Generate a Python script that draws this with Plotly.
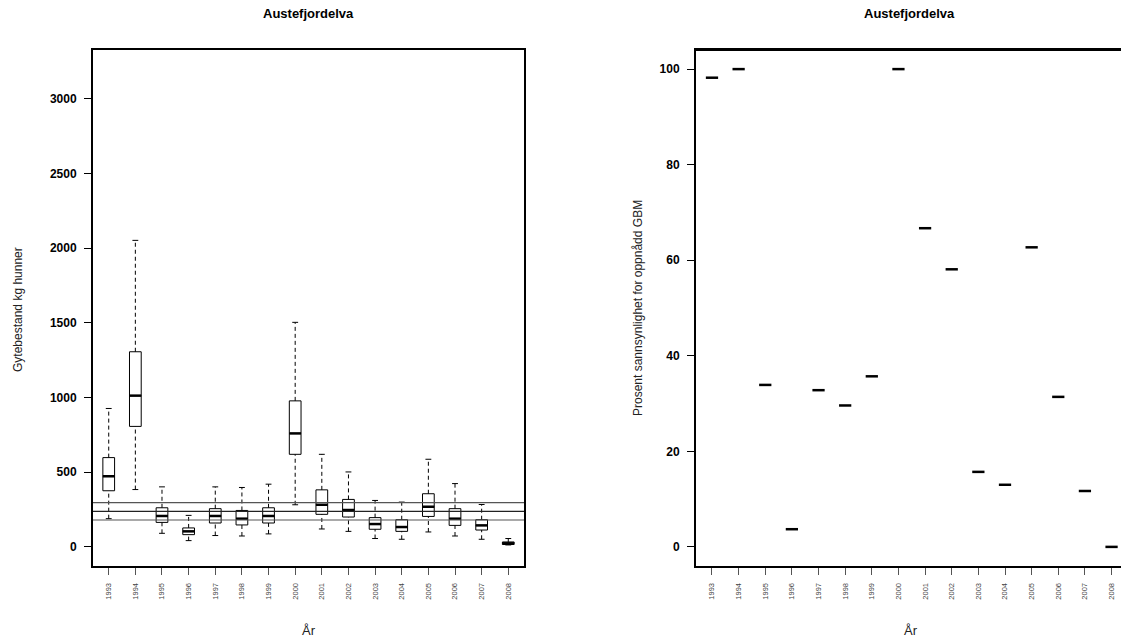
import plotly.graph_objects as go

# ---------------- data ----------------
years = [str(y) for y in range(1993, 2009)]

# left panel: spawning stock (kg females) box statistics
whisker_low = [189, 384, 91, 42, 76, 73, 87, 282, 120, 104, 56, 51, 100, 73, 51, 13]
q1 = [376, 807, 164, 82, 160, 147, 160, 620, 218, 200, 118, 104, 204, 144, 113, 16]
median = [473, 1013, 207, 104, 207, 189, 207, 760, 282, 247, 153, 133, 269, 189, 144, 24]
q3 = [598, 1307, 262, 127, 256, 244, 262, 978, 382, 318, 196, 182, 356, 256, 182, 33]
whisker_high = [927, 2053, 402, 211, 402, 398, 420, 1504, 620, 502, 311, 300, 587, 424, 284, 56]

# reference levels (kg females)
ref_levels = [180, 238, 296]

# right panel: percent probability of reaching spawning target
prob_pct = [98.2, 100, 33.9, 3.7, 32.8, 29.6, 35.7, 100, 66.7, 58.1, 15.7, 13.0, 62.7, 31.4, 11.7, 0]

title_text = "Austefjordelva"
ylab_left = "Gytebestand kg hunner"
ylab_right = "Prosent sannsynlighet for oppnådd GBM"
xlab = "År"

# ---------------- figure ----------------
W, H = 1121, 639
pos = list(range(len(years)))
BW = 0.44     # box width (data units)
CAP = 0.22    # whisker cap width

fig = go.Figure()

# boxes (body only; whiskers drawn dashed separately)
fig.add_trace(go.Box(
    x=pos, q1=q1, median=median, q3=q3, lowerfence=q1, upperfence=q3,
    width=BW, fillcolor="white", line=dict(color="black", width=1),
    whiskerwidth=0, boxpoints=False, hoverinfo="skip",
    xaxis="x", yaxis="y", showlegend=False))

def seg_xy(xs, ys_a, ys_b):
    X, Y = [], []
    for x, a, b in zip(xs, ys_a, ys_b):
        X += [x, x, None]
        Y += [a, b, None]
    return X, Y

def hseg_xy(xs, ys, half):
    X, Y = [], []
    for x, y in zip(xs, ys):
        X += [x - half, x + half, None]
        Y += [y, y, None]
    return X, Y

# dashed whiskers
wx, wy = seg_xy(pos, q3, whisker_high)
wx2, wy2 = seg_xy(pos, whisker_low, q1)
fig.add_trace(go.Scatter(x=wx + wx2, y=wy + wy2, mode="lines",
                         line=dict(color="black", width=1, dash="4px,3px"),
                         xaxis="x", yaxis="y", showlegend=False, hoverinfo="skip"))
# caps
cx, cy = hseg_xy(pos + pos, whisker_high + whisker_low, CAP / 2)
fig.add_trace(go.Scatter(x=cx, y=cy, mode="lines", line=dict(color="black", width=1),
                         xaxis="x", yaxis="y", showlegend=False, hoverinfo="skip"))
# medians (thick)
mx, my = hseg_xy(pos, median, BW / 2)
fig.add_trace(go.Scatter(x=mx, y=my, mode="lines", line=dict(color="black", width=2.5),
                         xaxis="x", yaxis="y", showlegend=False, hoverinfo="skip"))

# right panel medians
px_, py_ = hseg_xy(pos, prob_pct, 0.46 / 2)
fig.add_trace(go.Scatter(x=px_, y=py_, mode="lines", line=dict(color="black", width=2.5),
                         xaxis="x2", yaxis="y2", showlegend=False, hoverinfo="skip"))

# reference lines
ref_colors = ["#555555", "#222222", "#555555"]
for lvl, c in zip(ref_levels, ref_colors[::-1]):
    fig.add_shape(type="line", xref="x domain", yref="y", x0=0, x1=1, y0=lvl, y1=lvl,
                  line=dict(color=c, width=1.2))

# top frame line of right panel (its right edge lies outside the page)
fig.add_shape(type="line", xref="x2 domain", yref="y2 domain", x0=0, x1=1, y0=1, y1=1,
              line=dict(color="black", width=2))

FONT = "Liberation Sans, Arial, sans-serif"

def px2x(p):
    return p / W

def px2y(p):
    return (H - p) / H

xcommon = dict(tickmode="array", tickvals=pos, ticktext=years, tickangle=-90,
               ticks="outside", ticklen=7, tickcolor="#555555", tickwidth=1,
               tickfont=dict(family=FONT, size=7.5, color="#444444"),
               ticklabelstandoff=5, showgrid=False, zeroline=False,
               showline=True, linecolor="black", linewidth=2, mirror=True)
ycommon = dict(ticks="outside", ticklen=7, tickcolor="black", tickwidth=1,
               tickfont=dict(family=FONT, size=12, color="black", weight="bold"),
               ticklabelstandoff=5, showgrid=False, zeroline=False,
               showline=True, linecolor="black", linewidth=2)

unit = 431 / 16.18
fig.update_layout(
    width=W, height=H, margin=dict(l=0, r=0, t=0, b=0),
    paper_bgcolor="white", plot_bgcolor="white", showlegend=False,
    xaxis=dict(domain=[px2x(93), px2x(524)], range=[-0.59, 15.59], anchor="y", **xcommon),
    yaxis=dict(domain=[px2y(566), px2y(50)], range=[-128, 3328],
               tickvals=[0, 500, 1000, 1500, 2000, 2500, 3000], anchor="x",
               mirror=True, **ycommon),
    xaxis2=dict(domain=[px2x(696), 1.0], range=[-0.6, -0.6 + 425 / unit], anchor="y2", **xcommon),
    yaxis2=dict(domain=[px2y(566), px2y(50)], range=[-4, 104],
                tickvals=[0, 20, 40, 60, 80, 100], anchor="x2", **ycommon),
)

ann = [
    dict(text="<b>" + title_text + "</b>", x=px2x(308.5), y=px2y(14), size=13, angle=0, color="black"),
    dict(text="<b>" + title_text + "</b>", x=px2x(909), y=px2y(14), size=13, angle=0, color="black"),
    dict(text=ylab_left, x=px2x(18), y=px2y(310), size=12, angle=-90, color="#222222"),
    dict(text=ylab_right, x=px2x(638), y=px2y(308), size=12, angle=-90, color="#222222"),
    dict(text=xlab, x=px2x(308.5), y=px2y(630), size=13, angle=0, color="#222222"),
    dict(text=xlab, x=px2x(911), y=px2y(630), size=13, angle=0, color="#222222"),
]
for a in ann:
    fig.add_annotation(text=a["text"], x=a["x"], y=a["y"], xref="paper", yref="paper",
                       xanchor="center", yanchor="middle", showarrow=False, textangle=a["angle"],
                       font=dict(family=FONT, size=a["size"], color=a["color"]))

fig.write_html("out.html", config={"displayModeBar": False},
               post_script="document.body.style.margin='0';")
